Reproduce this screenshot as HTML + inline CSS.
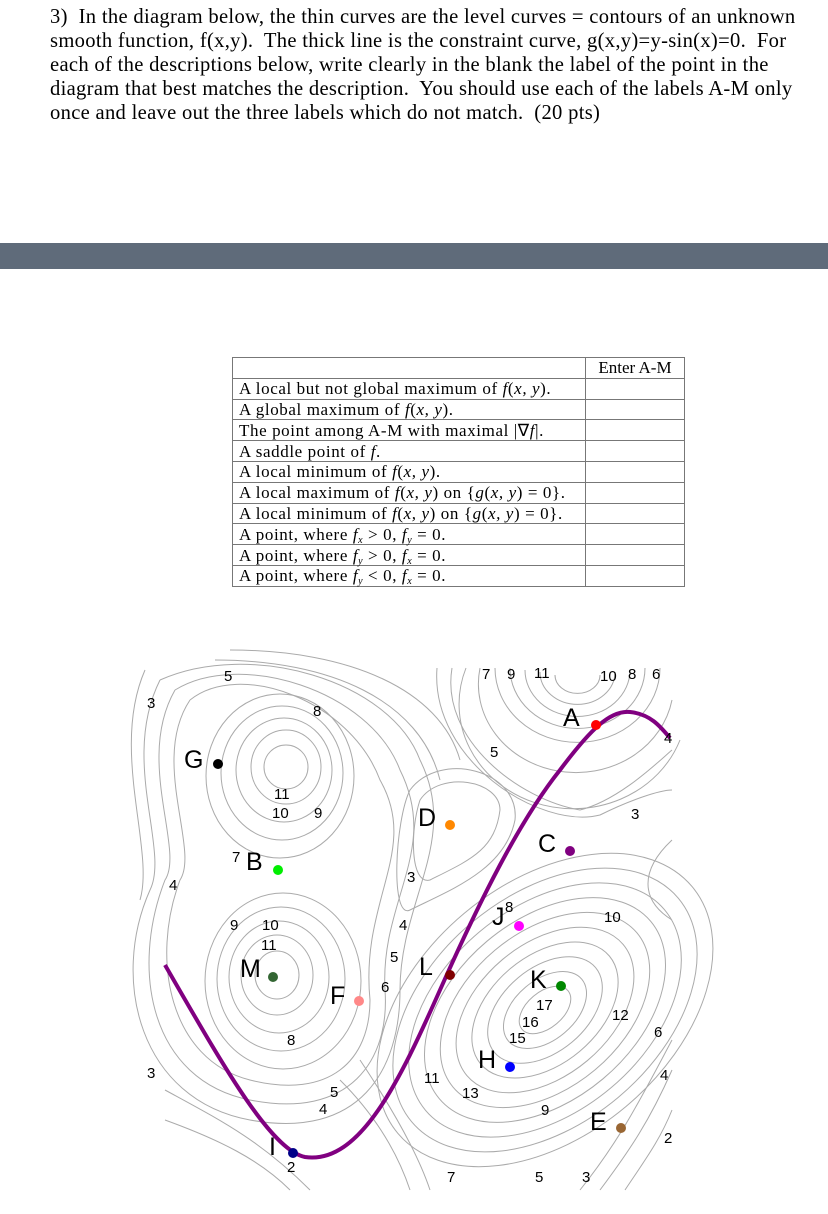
<!DOCTYPE html>
<html><head><meta charset="utf-8"><style>
body{margin:0;width:828px;height:1214px;background:#fff;position:relative;overflow:hidden;font-family:"Liberation Serif",serif;}
.q{position:absolute;left:50px;top:5px;font-size:20.6px;letter-spacing:0.3px;line-height:24px;color:#000;white-space:nowrap;}
.band{position:absolute;left:0;top:243px;width:828px;height:26px;background:#5f6b7a;}
table{position:absolute;left:232px;top:357px;border-collapse:collapse;font-size:17px;letter-spacing:0.6px;}
td{border:1px solid #777;padding:0 6px;height:19.8px;line-height:19px;white-space:nowrap;}
td.a{width:90px;padding:0 4px;letter-spacing:0;}
i{font-style:italic}
sub{font-size:10px;line-height:0;vertical-align:-3px;}
svg{position:absolute;left:0;top:0}
svg text{font-family:"Liberation Sans",sans-serif;}
</style></head><body>
<div class="q">3)&nbsp; In the diagram below, the thin curves are the level curves = contours of an unknown<br>smooth function, f(x,y).&nbsp; The thick line is the constraint curve, g(x,y)=y-sin(x)=0.&nbsp; For<br>each of the descriptions below, write clearly in the blank the label of the point in the<br>diagram that best matches the description.&nbsp; You should use each of the labels A-M only<br>once and leave out the three labels which do not match.&nbsp; (20 pts)</div>
<div class="band"></div>
<table>
<tr><td style="width:340px"></td><td class="a" style="text-align:center">Enter A-M</td></tr>
<tr><td>A local but not global maximum of <i>f</i>(<i>x, y</i>).</td><td></td></tr>
<tr><td>A global maximum of <i>f</i>(<i>x, y</i>).</td><td></td></tr>
<tr><td>The point among A-M with maximal |∇<i>f</i>|.</td><td></td></tr>
<tr><td>A saddle point of <i>f</i>.</td><td></td></tr>
<tr><td>A local minimum of <i>f</i>(<i>x, y</i>).</td><td></td></tr>
<tr><td>A local maximum of <i>f</i>(<i>x, y</i>) on {<i>g</i>(<i>x, y</i>) = 0}.</td><td></td></tr>
<tr><td>A local minimum of <i>f</i>(<i>x, y</i>) on {<i>g</i>(<i>x, y</i>) = 0}.</td><td></td></tr>
<tr><td>A point, where <i>f<sub>x</sub></i> &gt; 0, <i>f<sub>y</sub></i> = 0.</td><td></td></tr>
<tr><td>A point, where <i>f<sub>y</sub></i> &gt; 0, <i>f<sub>x</sub></i> = 0.</td><td></td></tr>
<tr><td>A point, where <i>f<sub>y</sub></i> &lt; 0, <i>f<sub>x</sub></i> = 0.</td><td></td></tr>
</table>
<svg width="828" height="1214" viewBox="0 0 828 1214">
<g fill="none" stroke="#aaa" stroke-width="1">
<ellipse cx="286" cy="767" rx="22" ry="22"/>
<ellipse cx="286" cy="767" rx="35" ry="37"/>
<ellipse cx="284" cy="770" rx="48" ry="52"/>
<ellipse cx="282" cy="773" rx="61" ry="67"/>
<ellipse cx="280" cy="776" rx="74" ry="82"/>
<ellipse cx="277" cy="975" rx="22" ry="24"/>
<ellipse cx="277" cy="975" rx="36" ry="40"/>
<ellipse cx="279" cy="977" rx="50" ry="56"/>
<ellipse cx="281" cy="979" rx="64" ry="72"/>
<ellipse cx="283" cy="981" rx="78" ry="88"/>
<path d="M190 700 C150 760 200 850 180 880 C150 960 170 1060 250 1080 C330 1100 370 1060 370 1000 C360 900 420 850 380 780 C350 700 240 660 190 700"/>
<path d="M175 690 C135 760 185 850 165 880 C130 970 150 1080 250 1100 C350 1120 390 1060 385 990 C380 900 440 850 400 770 C370 690 240 650 175 690"/>
<path d="M160 680 C120 760 170 850 150 890 C110 980 140 1100 250 1120 C360 1140 400 1070 400 990 C400 900 460 840 420 760 C390 680 250 640 160 680"/>
<path d="M145 670 C110 750 155 850 140 900"/>
<path d="M215 660 C330 660 420 700 440 780"/>
<path d="M230 650 C350 650 440 690 460 760"/>
<path d="M420 800 C440 770 500 780 500 810 C495 850 470 860 430 880 C410 885 410 830 420 800"/>
<path d="M410 790 C440 750 520 770 515 820 C505 870 450 890 410 910 C390 920 395 820 410 790"/>
<g transform="rotate(-40 545 1010)">
<ellipse cx="545" cy="1010" rx="30" ry="18"/>
<ellipse cx="545" cy="1010" rx="48" ry="30"/>
<ellipse cx="545" cy="1010" rx="66" ry="42"/>
<ellipse cx="545" cy="1010" rx="84" ry="54"/>
<ellipse cx="545" cy="1010" rx="102" ry="66"/>
<ellipse cx="545" cy="1010" rx="120" ry="78"/>
<ellipse cx="545" cy="1010" rx="138" ry="90"/>
<ellipse cx="545" cy="1010" rx="156" ry="102"/>
<ellipse cx="545" cy="1010" rx="174" ry="114"/>
<ellipse cx="545" cy="1010" rx="192" ry="126"/>
</g>
<path d="M555 675 A22 18 0 0 0 600 675"/>
<path d="M540 672 A37 32 0 0 0 615 672"/>
<path d="M525 670 A52 46 0 0 0 630 670"/>
<path d="M510 668 A67 60 0 0 0 645 668"/>
<path d="M495 668 A82 74 0 0 0 660 668"/>
<path d="M480 668 A97 88 0 0 0 672 700"/>
<path d="M466 668 A111 102 0 0 0 680 740"/>
<path d="M452 668 C440 740 520 800 580 810 C620 800 660 760 672 750"/>
<path d="M437 668 C430 760 540 830 600 815 C630 800 660 790 672 790"/>
<path d="M672 840 C640 870 640 900 672 920"/>
<path d="M672 1040 C640 1100 620 1140 580 1190"/>
<path d="M672 1070 C650 1120 630 1150 600 1190"/>
<path d="M672 1110 C660 1140 645 1160 625 1190"/>
<path d="M165 1090 C220 1120 260 1140 310 1190"/>
<path d="M165 1120 C220 1140 260 1160 290 1190"/>
<path d="M340 1080 C380 1120 400 1160 410 1190"/>
<path d="M360 1060 C400 1120 420 1160 430 1190"/>
</g>
<path d="M165 965 C220 1060 270 1150 305 1157 C360 1165 400 1080 440 990 C480 900 520 820 560 770 C590 730 610 710 630 712 C650 714 660 726 670 738" fill="none" stroke="#800080" stroke-width="4"/>
<g>
<circle cx="596" cy="725" r="5" fill="#f00"/>
<circle cx="218" cy="764" r="5" fill="#000"/>
<circle cx="278" cy="870" r="5" fill="#0e0"/>
<circle cx="450" cy="825" r="5" fill="#f80"/>
<circle cx="570" cy="851" r="5" fill="#800080"/>
<circle cx="519" cy="926" r="5" fill="#f0f"/>
<circle cx="450" cy="975" r="5" fill="#800000"/>
<circle cx="561" cy="986" r="5" fill="#080"/>
<circle cx="359" cy="1001" r="5" fill="#f88"/>
<circle cx="273" cy="977" r="5" fill="#363"/>
<circle cx="510" cy="1067" r="5" fill="#00f"/>
<circle cx="621" cy="1128" r="5" fill="#963"/>
<circle cx="293" cy="1153" r="5" fill="#008"/>
</g>
<g font-size="25" fill="#000">
<text x="563" y="726">A</text><text x="184" y="768">G</text><text x="246" y="870">B</text>
<text x="418" y="826">D</text><text x="538" y="852">C</text><text x="492" y="925">J</text>
<text x="419" y="975">L</text><text x="530" y="988">K</text><text x="330" y="1004">F</text>
<text x="240" y="977">M</text><text x="478" y="1068">H</text><text x="590" y="1130">E</text>
<text x="269" y="1155">I</text>
</g>
<g font-size="15" fill="#000">
<text x="224" y="681">5</text><text x="147" y="708">3</text><text x="313" y="716">8</text>
<text x="274" y="799">11</text><text x="272" y="818">10</text><text x="314" y="818">9</text>
<text x="232" y="862">7</text><text x="169" y="890">4</text><text x="230" y="930">9</text>
<text x="262" y="930">10</text><text x="261" y="950">11</text><text x="287" y="1045">8</text>
<text x="147" y="1078">3</text><text x="330" y="1097">5</text><text x="319" y="1114">4</text>
<text x="287" y="1172">2</text><text x="407" y="882">3</text><text x="399" y="930">4</text>
<text x="390" y="962">5</text><text x="381" y="992">6</text><text x="490" y="757">5</text>
<text x="482" y="679">7</text><text x="507" y="679">9</text><text x="534" y="678">11</text>
<text x="600" y="681">10</text><text x="628" y="679">8</text><text x="652" y="679">6</text>
<text x="664" y="743">4</text><text x="631" y="819">3</text><text x="604" y="922">10</text>
<text x="505" y="912">8</text><text x="536" y="1010">17</text><text x="522" y="1027">16</text>
<text x="509" y="1043">15</text><text x="612" y="1020">12</text><text x="654" y="1037">6</text>
<text x="660" y="1080">4</text><text x="424" y="1083">11</text><text x="462" y="1098">13</text>
<text x="541" y="1115">9</text><text x="664" y="1143">2</text><text x="447" y="1182">7</text>
<text x="535" y="1182">5</text><text x="582" y="1182">3</text>
</g>
</svg>
</body></html>
